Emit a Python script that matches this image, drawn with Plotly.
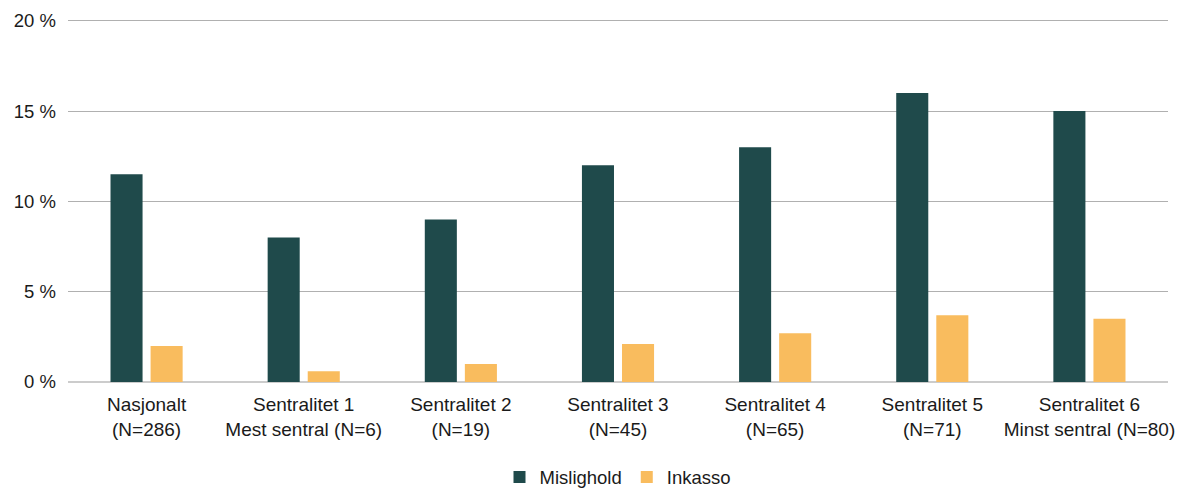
import plotly.graph_objects as go

categories = [
    "Nasjonalt<br>(N=286)",
    "Sentralitet 1<br>Mest sentral (N=6)",
    "Sentralitet 2<br>(N=19)",
    "Sentralitet 3<br>(N=45)",
    "Sentralitet 4<br>(N=65)",
    "Sentralitet 5<br>(N=71)",
    "Sentralitet 6<br>Minst sentral (N=80)",
]
mislighold = [11.5, 8.0, 9.0, 12.0, 13.0, 16.0, 15.0]
inkasso = [2.0, 0.6, 1.0, 2.1, 2.7, 3.7, 3.5]
y_ticks = [0, 5, 10, 15, 20]

FONT = "Helvetica Neue, Liberation Sans, Arial, sans-serif"

fig = go.Figure()
fig.add_trace(go.Bar(x=categories, y=mislighold, name="Mislighold",
                     marker=dict(color="#1f4a4b", line=dict(width=0))))
fig.add_trace(go.Bar(x=categories, y=inkasso, name="Inkasso",
                     marker=dict(color="#f9bc5e", line=dict(width=0))))

# page body has an 8px margin, so the figure is shifted by 8px right and down
fig.update_layout(
    width=1186,
    height=488,
    margin=dict(l=60, r=26, t=11, b=113.5, autoexpand=False),
    paper_bgcolor="white",
    plot_bgcolor="white",
    barmode="group",
    bargap=0.49,
    bargroupgap=0.2,
    font=dict(family=FONT, size=18.5, color="#1a1a1a"),
    showlegend=True,
    legend=dict(orientation="h", x=0.5, xanchor="center", y=-0.263,
                yanchor="middle", font=dict(size=18.5), itemwidth=30,
                traceorder="normal"),
)
fig.update_xaxes(showline=False, showgrid=False, ticks="", automargin=False,
                 ticklabelstandoff=9, tickfont=dict(size=19))
fig.update_yaxes(
    range=[0, 20.1],
    tickvals=y_ticks,
    ticktext=[f"{v} %" for v in y_ticks],
    showgrid=True,
    gridcolor="#b0b0b0",
    gridwidth=1,
    zeroline=True,
    zerolinecolor="#cccccc",
    zerolinewidth=2,
    showline=False,
    ticks="",
    automargin=False,
    ticklabelstandoff=11,
    tickfont=dict(size=18.5),
)

fig.write_html("out.html")
